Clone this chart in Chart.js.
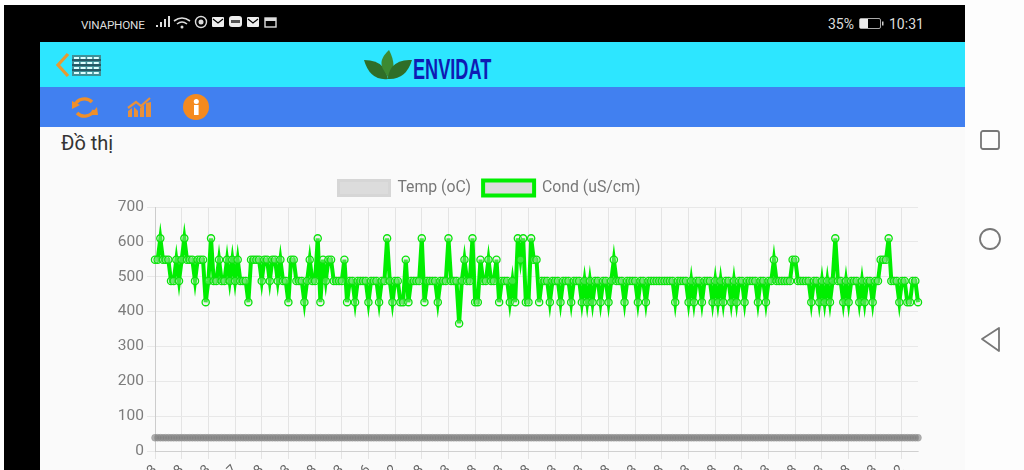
<!DOCTYPE html>
<html>
<head>
<meta charset="utf-8">
<title>Đồ thị</title>
<script src="https://cdn.jsdelivr.net/npm/chart.js@4"></script>
<style>
  html,body{margin:0;padding:0;width:1024px;height:470px;overflow:hidden;background:#fdfdfd;font-family:Roboto,sans-serif}
  #page{position:absolute;left:0;top:0;width:1024px;height:470px;overflow:hidden;filter:blur(.55px)}
  .frame{position:absolute;background:#000}
  .bar{position:absolute;left:40px;width:925px}
  #status{position:absolute;color:#ddd;font-size:11.7px;top:18px;left:81px;letter-spacing:-.2px}
  .clock{position:absolute;color:#ddd;font-size:14px;top:16px;left:828px}
  #chart-wrap{position:absolute;left:61px;top:168px;width:864px;height:340px}
  svg{position:absolute;overflow:visible}
</style>
</head>
<body>
<div id="page">
<div class="frame" style="left:4px;top:5px;width:961px;height:37px"></div>
<div class="frame" style="left:4px;top:5px;width:36px;height:465px"></div>
<div class="bar" style="top:42px;height:45px;background:#2de6ff"></div>
<div class="bar" style="top:87px;height:40px;background:#4180f0"></div>
<div class="bar" style="top:127px;height:343px;background:#fafafa"></div>

<div id="status">VINAPHONE</div>
<svg style="left:155px;top:15px" width="125" height="16">
  <path d="M1 12h2v-2h-2zM5 12h2v-5h-2zM9 12h2v-8h-2zM13 12h2v-11h-2z" fill="#ddd"/>
  <path d="M19 6q8-6 16 0M22 9q5-4 10 0" fill="none" stroke="#ddd" stroke-width="1.6"/>
  <circle cx="27" cy="12" r="1.5" fill="#ddd"/>
  <circle cx="46" cy="7" r="5.5" fill="none" stroke="#ddd" stroke-width="1.4"/><circle cx="46" cy="7" r="2.5" fill="#ddd"/>
  <rect x="57" y="2" width="12" height="10" rx="1" fill="#eee"/><path d="M58 4l5 4 5-4" fill="none" stroke="#000" stroke-width="1.2"/>
  <rect x="74" y="1" width="13" height="11" rx="3" fill="#eee"/><rect x="76" y="5" width="9" height="3" fill="#555"/>
  <rect x="92" y="2" width="12" height="10" rx="1" fill="#eee"/><path d="M93 4l5 4 5-4" fill="none" stroke="#000" stroke-width="1.2"/>
  <rect x="110" y="3" width="11" height="9" fill="none" stroke="#ddd" stroke-width="1.4"/><rect x="110" y="3" width="11" height="3" fill="#ddd"/>
</svg>
<div class="clock">35%</div>
<svg style="left:859px;top:18px" width="30" height="12">
  <rect x="0.5" y="0.5" width="21" height="10" rx="1.5" fill="none" stroke="#aaa"/><rect x="1" y="1" width="8" height="9" fill="#eee"/><rect x="23" y="3.5" width="1.5" height="4" fill="#ccc"/>
</svg>
<div class="clock" style="left:889px">10:31</div>

<svg style="left:55px;top:52px" width="50" height="28">
  <path d="M13 2L3 13l10 11" fill="none" stroke="#e89a30" stroke-width="3.2"/>
  <rect x="17" y="3" width="29" height="21" fill="#3f8f97"/>
  <path d="M17 8h29M17 13h29M17 18h29" stroke="#123" stroke-width="1"/>
  <path d="M19 6h25M19 11h25M19 16h25M19 21h25" stroke="#dff" stroke-width="2" stroke-dasharray="5 1.6"/>
</svg>
<svg style="left:364px;top:50px" width="50" height="34">
  <path d="M0 10q13 0 19 7q4 6 5 12q-18 2-24-19z" fill="#2f6e28"/>
  <path d="M25 0q-11 10-6 19l6 10q9-12 0-29z" fill="#3d8a32"/>
  <path d="M48 10q-13-1-20 7q-4 6-4 12q18 1 24-19z" fill="#2f6e28"/>
</svg>
<div style="position:absolute;left:413px;top:53px;font:bold 29px 'Liberation Sans Narrow','Liberation Sans',sans-serif;color:#0f1bb4;transform:scaleX(.625);transform-origin:0 0">ENVIDAT</div>

<svg style="left:70px;top:95px" width="130" height="26">
  <path d="M5 10a10 9 0 0 1 17-3M24 15a10 9 0 0 1-17 3" fill="none" stroke="#ef8f2a" stroke-width="3.4"/>
  <path d="M2 6l8 4-8 4zM27 12l-7 8 8 0z" fill="#ef8f2a"/>
  <path d="M58 22v-6l4-3v9zM64 22v-10l4 4v6zM70 22v-9l4-3v12zM76 22v-14l5-1v15z" fill="#e8903a"/>
  <path d="M58 13l8-6 5 4 9-8" fill="none" stroke="#e8903a" stroke-width="2.2"/>
  <circle cx="126" cy="12" r="13" fill="#f58a1f"/>
  <rect x="124" y="10" width="4.6" height="10" fill="#fff"/><circle cx="126.3" cy="6.5" r="2.5" fill="#fff"/>
</svg>
<div style="position:absolute;left:61px;top:131px;font-size:20px;color:#333">Đồ thị</div>

<div id="chart-wrap"><canvas id="chart"></canvas></div>

<svg style="left:975px;top:125px" width="35" height="225">
  <rect x="6" y="6" width="18" height="18" rx="2" fill="none" stroke="#777" stroke-width="1.8"/>
  <circle cx="15" cy="114" r="10" fill="none" stroke="#777" stroke-width="1.8"/>
  <path d="M24 203l-17 11 17 12z" fill="none" stroke="#777" stroke-width="1.8" stroke-linejoin="round"/>
</svg>
</div>

<script>
// values, one row per 10 samples
const condValues = [
  549,549,610,549,549,549,488,488,549,488,
  549,610,549,549,549,488,549,549,549,427,
  488,610,488,488,549,488,488,549,488,549,
  488,549,488,488,488,427,549,549,549,549,
  488,549,549,488,549,549,488,549,488,488,
  427,549,549,488,488,488,427,488,549,488,
  488,610,427,549,488,549,549,488,488,488,
  488,549,427,488,488,427,488,488,488,488,
  427,488,488,488,427,488,488,610,488,427,
  488,488,427,427,549,427,488,488,488,488,
  610,427,488,488,488,488,427,488,488,488,
  610,488,488,488,366,488,549,488,488,610,
  427,427,549,488,488,549,488,488,549,427,
  488,488,488,427,488,427,610,549,610,427,
  427,610,549,549,427,488,488,488,427,488,
  488,488,427,488,488,488,427,488,488,488,
  427,488,427,488,427,488,488,427,488,488,
  427,488,549,488,488,488,427,488,488,488,
  488,427,488,488,427,488,488,488,488,488,
  488,488,488,488,488,427,488,488,488,488,
  427,488,427,488,488,427,488,488,488,427,
  488,427,488,427,488,488,427,488,427,488,
  488,427,488,488,488,488,427,488,488,427,
  488,488,549,488,488,488,488,488,488,549,
  549,488,488,488,488,488,427,488,488,427,
  488,427,488,427,488,610,488,488,427,488,
  427,488,488,488,427,488,427,488,488,427,
  488,488,549,549,549,610,488,488,488,427,
  488,488,427,427,488,488,427
];
const tempValues = [
  38,38,38,38,38,38,38,38,38,38, 38,38,38,38,38,38,38,38,38,38,
  38,38,38,38,38,38,38,38,38,38, 38,38,38,38,38,38,38,38,38,38,
  38,38,38,38,38,38,38,38,38,38, 38,38,38,38,38,38,38,38,38,38,
  38,38,38,38,38,38,38,38,38,38, 38,38,38,38,38,38,38,38,38,38,
  38,38,38,38,38,38,38,38,38,38, 38,38,38,38,38,38,38,38,38,38,
  38,38,38,38,38,38,38,38,38,38, 38,38,38,38,38,38,38,38,38,38,
  38,38,38,38,38,38,38,38,38,38, 38,38,38,38,38,38,38,38,38,38,
  38,38,38,38,38,38,38,38,38,38, 38,38,38,38,38,38,38,38,38,38,
  38,38,38,38,38,38,38,38,38,38, 38,38,38,38,38,38,38,38,38,38,
  38,38,38,38,38,38,38,38,38,38, 38,38,38,38,38,38,38,38,38,38,
  38,38,38,38,38,38,38,38,38,38, 38,38,38,38,38,38,38,38,38,38,
  38,38,38,38,38,38,38,38,38,38, 38,38,38,38,38,38,38,38,38,38,
  38,38,38,38,38,38,38,38,38,38, 38,38,38,38,38,38,38,38,38,38,
  38,38,38,38,38,38,38,38,38,38, 38,38,38,38,38,38,38,38,38,38,
  38,38,38,38,38,38,38
];
// only the ends of these labels are visible in the screenshot, the rest is cut off
const timeLabels = [
  '10:23','10:28','10:23','10:27','10:28','10:23','10:28','10:23','10:26','10:22',
  '10:28','10:23','10:28','10:23','10:28','10:23','10:23','10:28','10:23','10:28',
  '10:23','10:28','10:23','10:23','10:28','10:23','10:28','10:23','10:22'
];
const yTicks = [0,100,200,300,400,500,600,700];
const tickStep = 10;

const labels = condValues.map((_, i) => i % tickStep === 0 ? timeLabels[i / tickStep] : '');

// legend keeps its wide item gap but takes less height above the plot
const legendHeight = {
  id: 'legendHeight',
  beforeInit(chart) {
    const fit = chart.legend.fit;
    chart.legend.fit = function () { fit.call(this); this.height = 39; };
  }
};

new Chart(document.getElementById('chart'), {
  type: 'line',
  plugins: [legendHeight],
  data: {
    labels,
    datasets: [
      { label: 'Temp (oC)', data: tempValues, borderColor: '#d6d6d6', backgroundColor: '#dcdcdc', borderWidth: 3,
        pointRadius: 3.4, pointBorderWidth: 1, pointBorderColor: 'rgba(150,150,150,0.5)', pointBackgroundColor: 'rgba(125,125,125,0.6)' },
      { label: 'Cond (uS/cm)', data: condValues, borderColor: '#00ee00', backgroundColor: '#dcdcdc', borderWidth: 4,
        pointRadius: 3.6, pointBorderWidth: 1.3, pointBorderColor: '#0be40b', pointBackgroundColor: 'rgba(220,220,220,0.3)' }
    ]
  },
  options: {
    responsive: true, maintainAspectRatio: false, animation: false,
    layout: { padding: { right: 7 } },
    plugins: {
      tooltip: { enabled: false },
      legend: { labels: { boxWidth: 51, boxHeight: 15, padding: 12, color: '#777', font: { family: 'Roboto', size: 15.8 } } }
    },
    scales: {
      x: {
        afterBuildTicks: s => { s.ticks = s.ticks.filter(t => t.value % tickStep === 0); },
        afterFit: s => { s.height = 57; },
        grid: { color: '#e4e4e4' },
        ticks: { autoSkip: false, minRotation: 45, maxRotation: 45, color: '#666', font: { family: 'Roboto', size: 13.5 } }
      },
      y: {
        min: 0, max: 700,
        afterBuildTicks: s => { s.ticks = yTicks.map(value => ({ value })); },
        afterFit: s => { s.width = 94; },
        grid: { color: '#e8e8e8' },
        ticks: { color: '#7c7c7c', font: { family: 'Roboto', size: 15.5 } }
      }
    }
  }
});
</script>
</body>
</html>
